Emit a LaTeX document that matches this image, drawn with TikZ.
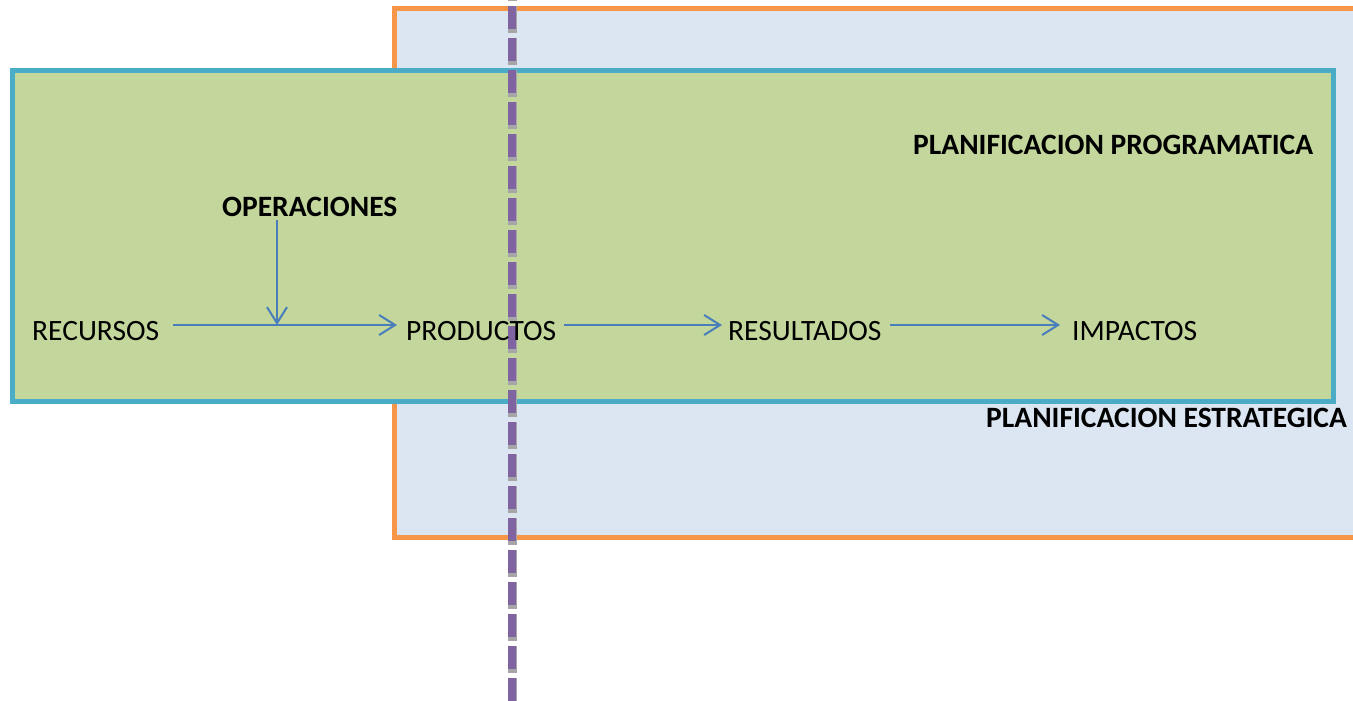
\documentclass[tikz,border=0pt]{standalone}
\usepackage{fontspec}
\setmainfont{Carlito}
\usetikzlibrary{arrows.meta}
\definecolor{greenfill}{HTML}{C3D69B}
\definecolor{cyanline}{HTML}{4BACC6}
\definecolor{orangeline}{HTML}{F79646}
\definecolor{bluefill}{HTML}{DCE6F2}
\definecolor{purpleline}{HTML}{8064A2}
\definecolor{arrowblue}{HTML}{4A7EBB}
\definecolor{shadowgray}{HTML}{A6A6A6}
\tikzset{
  lbl/.style={inner sep=0pt, font=\fontsize{29.5}{35}\selectfont, text=black},
  blbl/.style={lbl, font=\fontsize{29.5}{35}\selectfont\bfseries},
  flowarrow/.style={draw=arrowblue, line width=2pt, -{Straight Barb[length=16pt,width=20pt,line width=2pt]}},
  progbox/.style={draw=cyanline, fill=greenfill, line width=5pt},
  estbox/.style={draw=orangeline, fill=bluefill, line width=5pt},
}
\begin{document}
\begin{tikzpicture}[x=1pt,y=-1pt]
\useasboundingbox (0,0) rectangle (1353,701);
\clip (0,0) rectangle (1353,701);
% strategic planning box
\draw[estbox] (394,9) rectangle (1370,537);
% programmatic planning box
\draw[progbox] (12,71) rectangle (1333,401);
% dashed divider
\coordinate (dtop) at (512,-26);
\coordinate (dbot) at (512,730);
\draw[shadowgray, line width=9pt, dash pattern=on 27pt off 5pt] (dtop) -- (dbot);
\draw[purpleline, line width=8pt, dash pattern=on 23pt off 9pt] (dtop) -- (dbot);
% labels
\node[blbl, anchor=base west] (prog) at (913,154) {PLANIFICACION PROGRAMATICA};
\node[blbl, anchor=base west] (est) at (986,427) {PLANIFICACION ESTRATEGICA};
\node[blbl, anchor=base west] (oper) at (222,216) {OPERACIONES};
\node[lbl, anchor=base west] (rec) at (32,340) {RECURSOS};
\node[lbl, anchor=base west] (prod) at (406,340) {PRODUCTOS};
\node[lbl, anchor=base west] (res) at (728,340) {RESULTADOS};
\node[lbl, anchor=base west] (imp) at (1072,340) {IMPACTOS};
% arrows
\coordinate (join) at (277,325);
\draw[flowarrow] ([xshift=14pt]rec.east |- join) -- ([xshift=-9pt]prod.west |- join);
\draw[flowarrow] (oper.south -| join) ++(0,4) -- (join);
\draw[flowarrow] ([xshift=8pt]prod.east |- join) -- ([xshift=-6pt]res.west |- join);
\draw[flowarrow] ([xshift=8pt]res.east |- join) -- ([xshift=-12pt]imp.west |- join);
\end{tikzpicture}
\end{document}
